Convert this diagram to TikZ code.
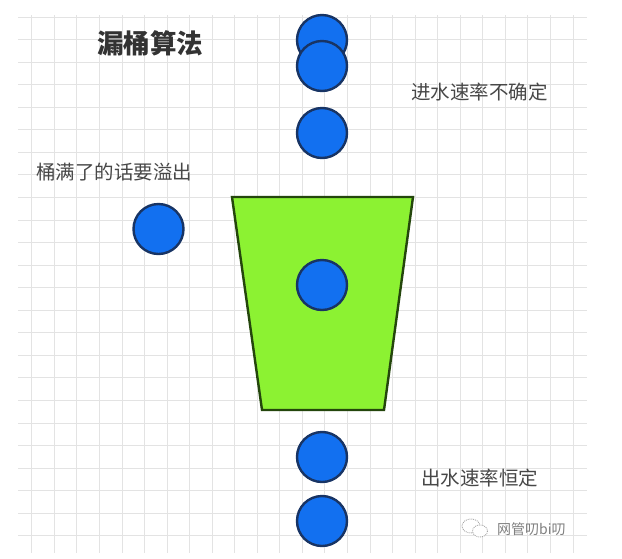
\documentclass[tikz,border=0pt]{standalone}
\usepackage{fontspec}
\newfontfamily\cjk{Noto Sans CJK SC}
\usepackage{tikz}
\usetikzlibrary{positioning}
\definecolor{dropblue}{RGB}{18,112,240}
\definecolor{dropedge}{RGB}{24,52,100}
\definecolor{bucketgreen}{RGB}{140,242,50}
\definecolor{bucketedge}{RGB}{36,70,12}
\tikzset{
    drop/.style={circle, draw=dropedge, fill=dropblue, line width=2.4pt, minimum size=50pt, inner sep=0pt},
    note/.style={font=\cjk\fontsize{19.5}{21}\selectfont, text=black!72, inner sep=0pt, anchor=west},
    gridline/.style={draw=black!11, line width=0.8pt}
}
\begin{document}
\begin{tikzpicture}[x=1pt, y=-1pt]
            \fill[white] (0,0) rectangle (622,558);
            \useasboundingbox (0,0) rectangle (622,558);
            \foreach \i in {0,...,24}
                \draw[gridline] ({31.7+22.55*\i},15) -- ({31.7+22.55*\i},553);
            \foreach \j in {0,...,23}
                \draw[gridline] (18,{17+22.55*\j}) -- (587,{17+22.55*\j});
            \node[font=\cjk\bfseries\fontsize{26.5}{28}\selectfont, text=black!80] (title) at (150,43) {漏桶算法};
            \node[drop] (in1) at (322,40) {};
            \node[drop] (in2) at (322,66) {};
            \node[drop] (in3) at (322,133) {};
            \node[note] (inrate) at (411,92) {进水速率不确定};
            \node[note] (overflow) at (36,172) {桶满了的话要溢出};
            \node[drop] (spill) at (158.5,229) {};
            \draw[draw=bucketedge, fill=bucketgreen, line width=2.4pt] (232,197) -- (413,197) -- (384,410) -- (262,410) -- cycle;
            \node[drop] (inside) at (322,285) {};
            \node[drop] (out1) at (322,457) {};
            \node[drop] (out2) at (322,521) {};
            \node[note] (outrate) at (421,478) {出水速率恒定};
            \draw[black!35, densely dotted, line width=0.9pt] (471,526) ellipse (9 and 7);
            \draw[black!35, densely dotted, line width=0.9pt, fill=white] (480,531) ellipse (7.5 and 6);
            \node[font=\cjk\fontsize{14}{16}\selectfont, text=black!50, inner sep=0pt, anchor=west] (mark) at (497,529.5) {网管叨bi叨};
        \end{tikzpicture}
\end{document}
